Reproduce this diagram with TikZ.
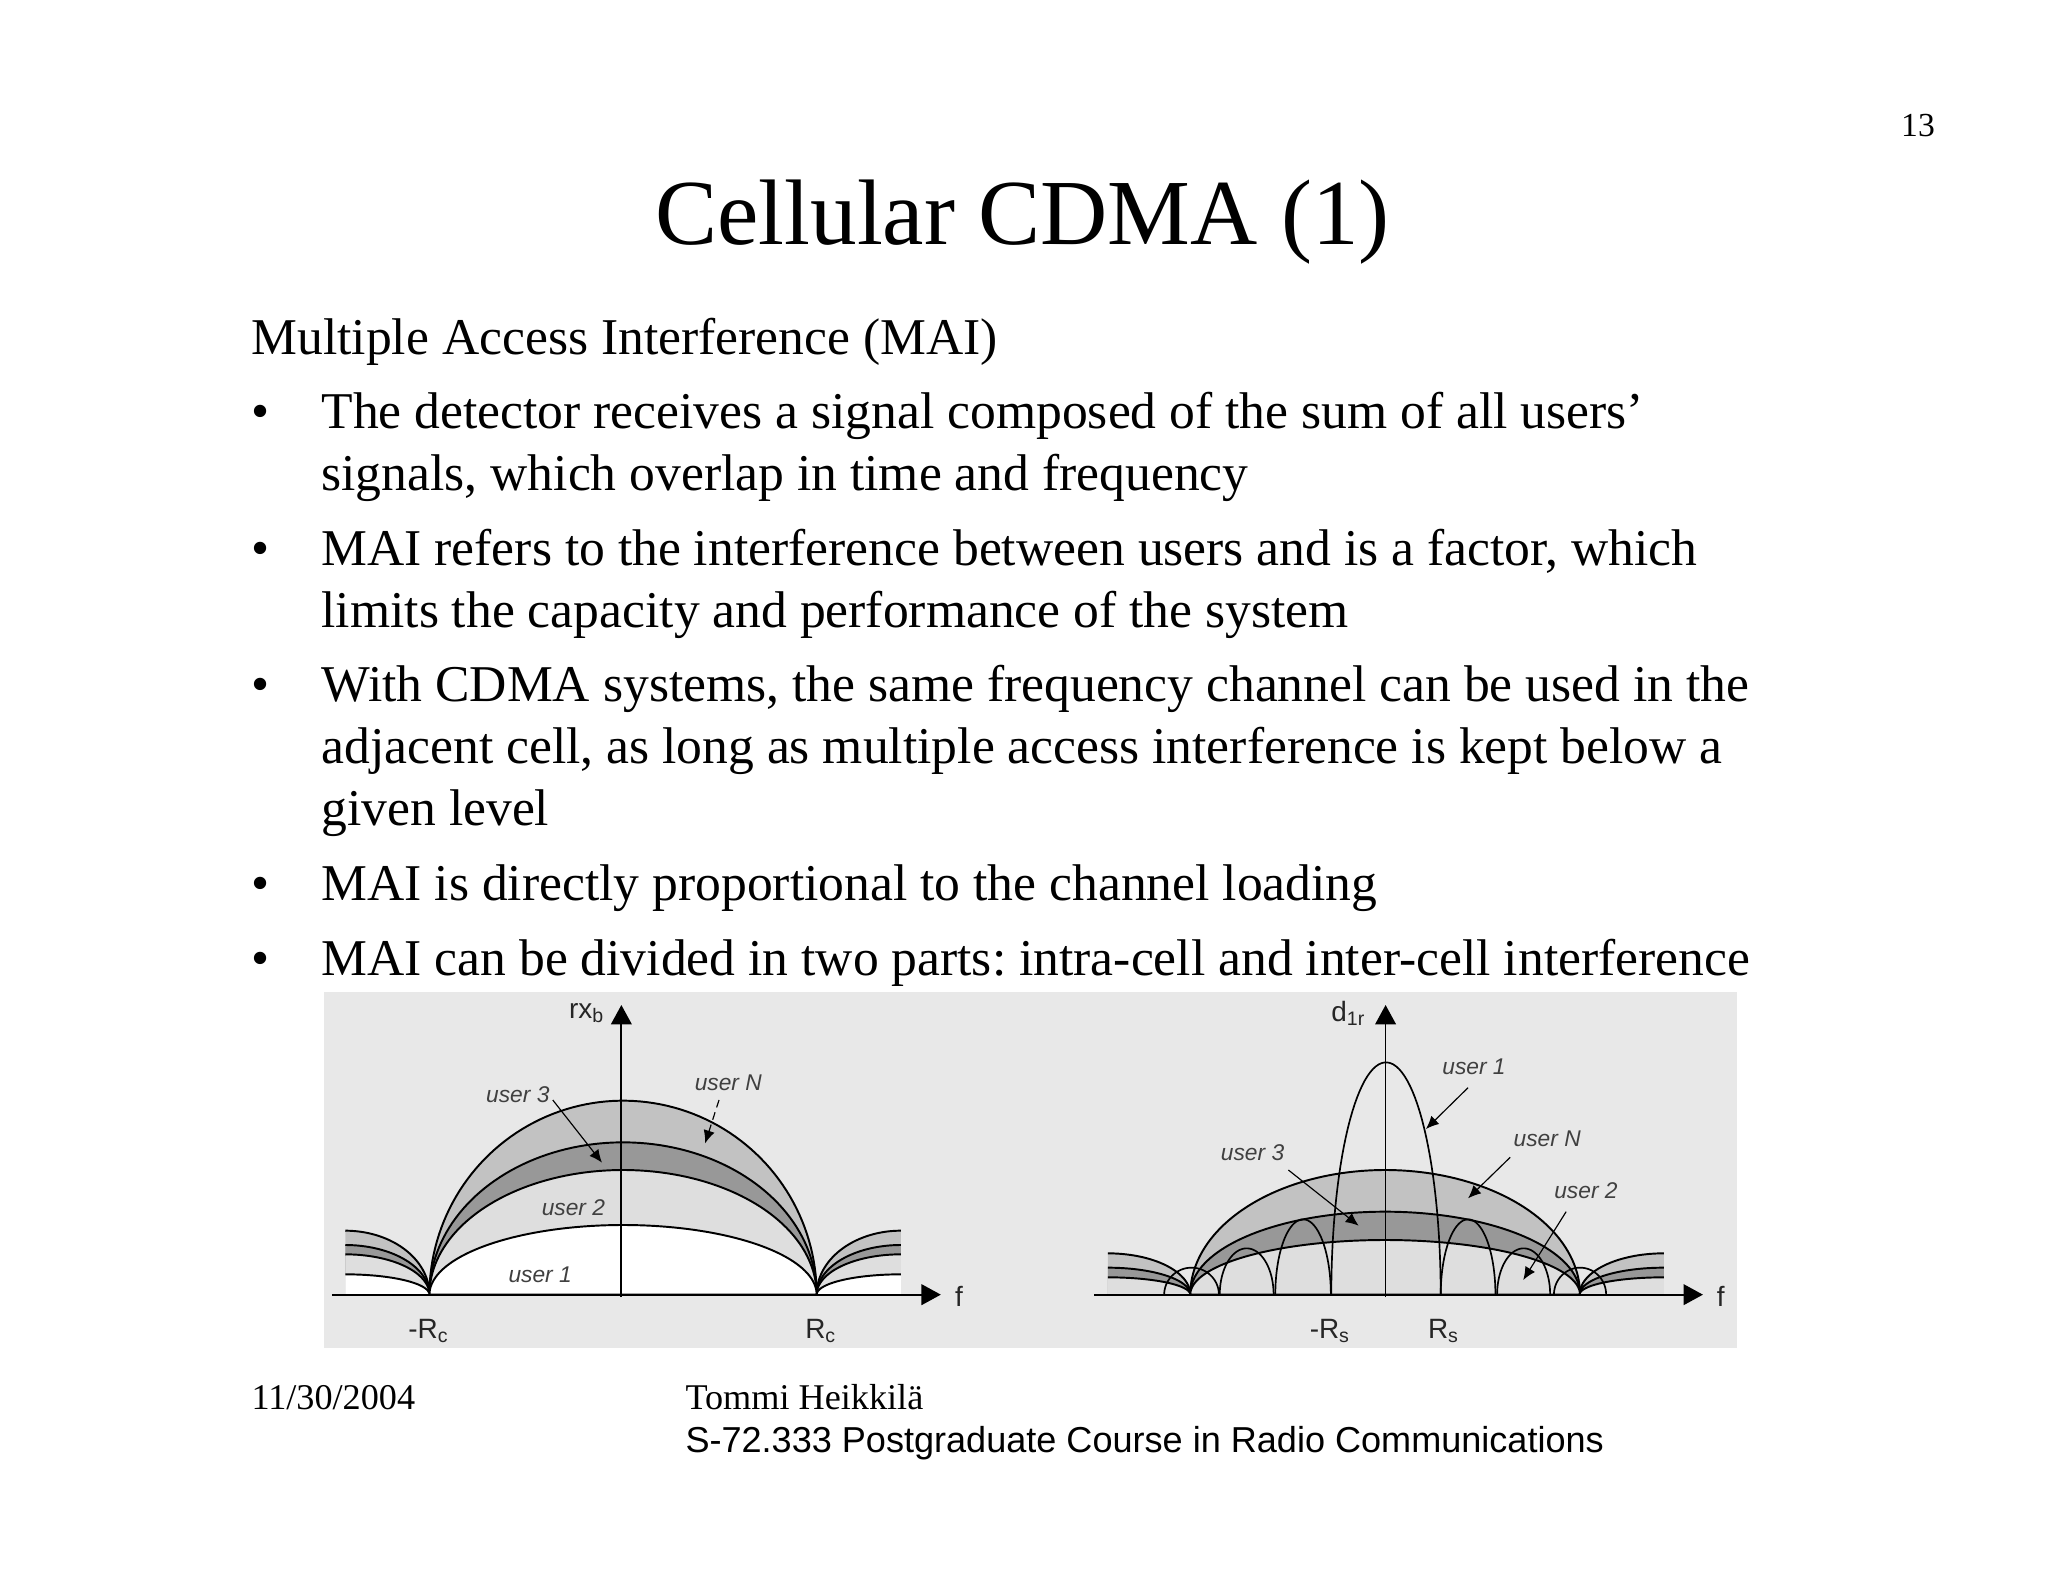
\documentclass[tikz,border=0pt]{standalone}
\usepackage{fontspec}
\setmainfont{Liberation Serif}
\setsansfont{Liberation Sans}
\usetikzlibrary{arrows.meta,positioning}
\definecolor{bandbg}{HTML}{E8E8E8}
\definecolor{bandA}{HTML}{C2C2C2}
\definecolor{bandB}{HTML}{989898}
\definecolor{bandC}{HTML}{DEDEDE}
\frenchspacing
\tikzset{
  titletxt/.style={anchor=base,inner sep=0pt,font=\fontsize{36}{40}\selectfont},
  bodytxt/.style={anchor=base west,inner sep=0pt,font=\fontsize{19.95}{24}\selectfont},
  foottxt/.style={anchor=base west,inner sep=0pt,font=\fontsize{14}{16}\selectfont},
  axlab/.style={inner sep=0pt,text=black!85,font=\sffamily\fontsize{10.8}{12}\selectfont},
  usrlab/.style={inner sep=0pt,text=black!75,font=\sffamily\itshape\fontsize{8.8}{10}\selectfont},
  axisline/.style={line width=0.7pt,-{Triangle[length=7.5pt,width=8pt]}},
  usrarrow/.style={line width=0.45pt,-{Latex[length=5pt,width=4.4pt]}},
  curve/.style={draw=black,line width=0.75pt},
  lobe/.style={draw=black,line width=0.65pt},
}
\begin{document}
\begin{tikzpicture}[x=0.38672pt,y=-0.38672pt,>=Latex]
  \useasboundingbox (0,0) rectangle (2048,1582);

  % page text
  \node[inner sep=0pt,anchor=base,font=\fontsize{13}{15}\selectfont] (pagenum) at (1918,137) {13};
  \node[titletxt] (title) at (1022.5,245) {Cellular CDMA (1)};
  \node[bodytxt] (head) at (251,355) {Multiple Access Interference (MAI)};

  \foreach \yy in {429,565,701,900,975}
    \node[bodytxt] (bul\yy) at (251,\yy) {\textbullet};

  \node[bodytxt] (la) at (321,429) {The detector receives a signal composed of the sum of all users’};
  \node[bodytxt] (lb) at (321,491) {signals, which overlap in time and frequency};
  \node[bodytxt] (lc) at (321,565) {MAI refers to the interference between users and is a factor, which};
  \node[bodytxt] (ld) at (321,627) {limits the capacity and performance of the system};
  \node[bodytxt] (le) at (321,701) {With CDMA systems, the same frequency channel can be used in the};
  \node[bodytxt] (lf) at (321,763) {adjacent cell, as long as multiple access interference is kept below a};
  \node[bodytxt] (lg) at (321,825) {given level};
  \node[bodytxt] (lh) at (321,900) {MAI is directly proportional to the channel loading};
  \node[bodytxt] (li) at (321,975) {MAI can be divided in two parts: intra-cell and inter-cell interference};

  \node[foottxt] (fdate) at (251,1409) {11/30/2004};
  \node[foottxt] (fname) at (685,1409) {Tommi Heikkilä};
  \node[foottxt,font=\sffamily\fontsize{13.95}{16}\selectfont] (fcourse) at (685,1452) {S-72.333 Postgraduate Course in Radio Communications};

  % grey band behind both plots
  \fill[bandbg] (324,992) rectangle (1737,1348);

  % left plot
  \begin{scope}[shift={(320,985)},xscale=0.4209,yscale=1/3]
    \foreach \hh/\hs/\col in {582/192/bandA,457/149/bandB,374/121/bandC,209/61/white}{
      \filldraw[curve,fill=\col] plot[domain=180:0,samples=90] ({720+460*cos(\x)},{929-\hh*sin(\x)}) -- cycle;
      \fill[\col] (60,929) -- plot[domain=90:0,samples=40] ({60+200*cos(\x)},{929-\hs*sin(\x)}) -- cycle;
      \fill[\col] (1380,929) -- plot[domain=90:180,samples=40] ({1380+200*cos(\x)},{929-\hs*sin(\x)}) -- cycle;
      \draw[curve] plot[domain=90:0,samples=40] ({60+200*cos(\x)},{929-\hs*sin(\x)});
      \draw[curve] plot[domain=90:180,samples=40] ({1380+200*cos(\x)},{929-\hs*sin(\x)});
    }
    \coordinate (lxa) at (28,929);
    \coordinate (lxb) at (1475,929);
    \coordinate (lya) at (716,936);
    \coordinate (lyb) at (716,60);
    \draw[axisline] (lxa) -- (lxb);
    \draw[axisline] (lya) -- (lyb);

    \node[axlab] (lrx) at (634,84) {rx\textsubscript{b}};
    \node[axlab] (lf) at (1518,935) {f};
    \node[axlab] (lrm) at (258,1038) {-R\textsubscript{c}};
    \node[axlab] (lrp) at (1190,1038) {R\textsubscript{c}};

    \node[usrlab] (lu3) at (470,330) {user 3};
    \node[usrlab] (lun) at (970,292) {user N};
    \node[usrlab] (lu2) at (602,668) {user 2};
    \node[usrlab] (lu1) at (523,870) {user 1};

    \coordinate (lu3a) at (553,345);
    \coordinate (lu3b) at (670,533);
    \coordinate (luna) at (948,345);
    \coordinate (lunb) at (915,475);
    \draw[usrarrow] (lu3a) -- (lu3b);
    \draw[usrarrow,densely dashed] (luna) -- (lunb);
  \end{scope}

  % right plot
  \begin{scope}[shift={(1080,985)},xscale=0.4209,yscale=1/3]
    \foreach \hh/\hs/\col in {374/124/bandA,249/81/bandB,164/52/bandC}{
      \filldraw[curve,fill=\col] plot[domain=180:0,samples=90] ({725+463*cos(\x)},{929-\hh*sin(\x)}) -- cycle;
      \fill[\col] (66,929) -- plot[domain=90:0,samples=40] ({66+196*cos(\x)},{929-\hs*sin(\x)}) -- cycle;
      \fill[\col] (1387,929) -- plot[domain=90:180,samples=40] ({1387+200*cos(\x)},{929-\hs*sin(\x)}) -- cycle;
      \draw[curve] plot[domain=90:0,samples=40] ({66+196*cos(\x)},{929-\hs*sin(\x)});
      \draw[curve] plot[domain=90:180,samples=40] ({1387+200*cos(\x)},{929-\hs*sin(\x)});
    }
    % lobes of user 1
    \foreach \cc/\rr/\hh in {727/130/697,530/66/226,396/64/139,265/65/81,922/65/226,1054/63/139,1188/62/81}
      \draw[lobe] plot[domain=180:0,samples=60] ({\cc+\rr*cos(\x)},{929-\hh*sin(\x)});

    \coordinate (rxa) at (34,929);
    \coordinate (rxb) at (1480,929);
    \coordinate (rya) at (726,936);
    \coordinate (ryb) at (726,60);
    \draw[axisline] (rxa) -- (rxb);
    \draw[axisline] (rya) -- (ryb);

    \node[axlab] (rd) at (638,84) {d\textsubscript{1r}};
    \node[axlab] (rf) at (1522,935) {f};
    \node[axlab] (rrm) at (594,1038) {-R\textsubscript{s}};
    \node[axlab] (rrp) at (864,1038) {R\textsubscript{s}};

    \node[usrlab] (ru1) at (936,245) {user 1};
    \node[usrlab] (run) at (1110,462) {user N};
    \node[usrlab] (ru3) at (410,503) {user 3};
    \node[usrlab] (ru2) at (1202,618) {user 2};

    \coordinate (ru1a) at (922,308);
    \coordinate (ru1b) at (822,432);
    \coordinate (runa) at (1022,517);
    \coordinate (runb) at (922,640);
    \coordinate (ru3a) at (495,555);
    \coordinate (ru3b) at (662,722);
    \coordinate (ru2a) at (1155,680);
    \coordinate (ru2b) at (1053,885);
    \draw[usrarrow] (ru1a) -- (ru1b);
    \draw[usrarrow] (runa) -- (runb);
    \draw[usrarrow] (ru3a) -- (ru3b);
    \draw[usrarrow] (ru2a) -- (ru2b);
  \end{scope}
\end{tikzpicture}
\end{document}
